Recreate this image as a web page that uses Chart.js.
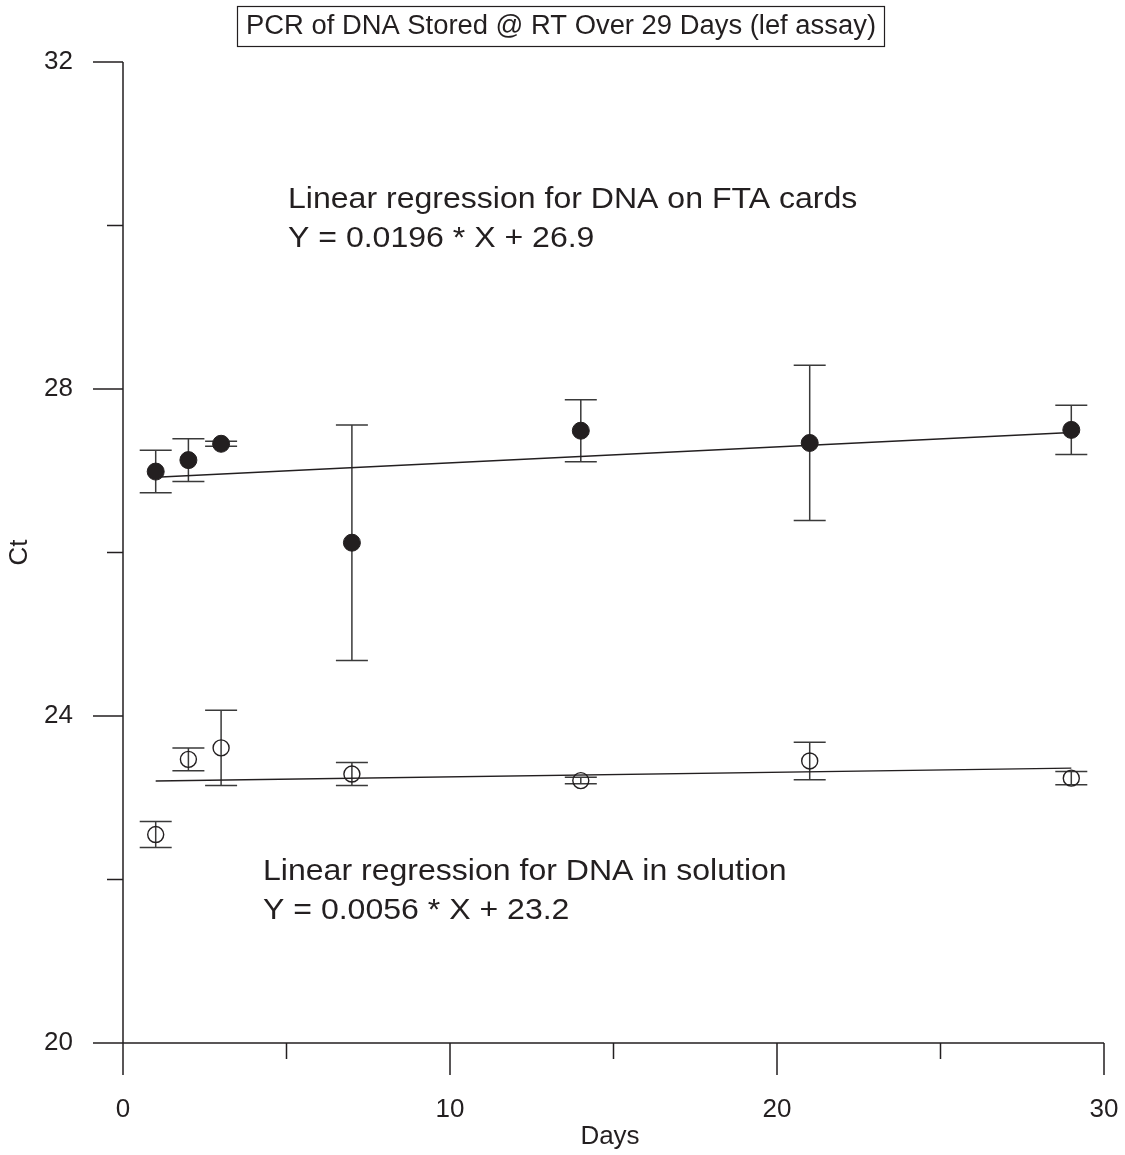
<!DOCTYPE html>
<html>
<head>
<meta charset="utf-8">
<script src="https://cdn.jsdelivr.net/npm/chart.js@4.4.1/dist/chart.umd.min.js"></script>
<style>
  html, body { margin: 0; background: #fff; }
  #wrap { width: 1125px; height: 1155px; }
</style>
</head>
<body>
<div id="wrap"><canvas id="ctChart" width="1125" height="1155"></canvas></div>
<script>
// values
const days = [1, 2, 3, 7, 14, 21, 29];
const ftaCt = [26.99, 27.13, 27.33, 26.12, 27.49, 27.34, 27.50];
const ftaErr = [0.26, 0.26, 0.03, 1.44, 0.38, 0.95, 0.30];
const solCt = [22.55, 23.47, 23.61, 23.29, 23.21, 23.45, 23.24];
const solErr = [0.16, 0.14, 0.46, 0.14, 0.04, 0.23, 0.08];

// regression lines as printed on the chart
const ftaFit = [0.0196, 26.9];
const solFit = [0.0056, 23.2];
const fitDays = [1, 29];

const xMajor = [0, 10, 20, 30];
const xMinor = [5, 15, 25];
const yMajor = [20, 24, 28, 32];
const yMinor = [22, 26, 30];

const INK = '#231f20';
const FONT = "'Liberation Sans', Arial, sans-serif";

function pts(xs, ys) {
    return xs.map((x, i) => ({ x: x, y: ys[i] }));
}
function fitLine(fit) {
    return fitDays.map(d => ({ x: d, y: fit[0] * d + fit[1] }));
}

// vertical error bars with caps, drawn under the markers
const errorBars = {
    id: 'errorBars',
    beforeDatasetsDraw(chart) {
        const ctx = chart.ctx;
        const ys = chart.scales.y;
        ctx.save();
        ctx.strokeStyle = '#3a3a3a';
        ctx.lineWidth = 1.5;
        chart.data.datasets.forEach((ds, di) => {
            if (!ds.errors) return;
            const meta = chart.getDatasetMeta(di);
            meta.data.forEach((el, i) => {
                const v = ds.data[i].y;
                const top = ys.getPixelForValue(v + ds.errors[i]);
                const bot = ys.getPixelForValue(v - ds.errors[i]);
                const x = el.x;
                ctx.beginPath();
                ctx.moveTo(x, top); ctx.lineTo(x, bot);
                ctx.moveTo(x - 16, top); ctx.lineTo(x + 16, top);
                ctx.moveTo(x - 16, bot); ctx.lineTo(x + 16, bot);
                ctx.stroke();
            });
        });
        ctx.restore();
    }
};

// L-shaped axes with outward ticks, like the original plotting program
const axesFrame = {
    id: 'axesFrame',
    afterDraw(chart) {
        const ctx = chart.ctx;
        const xs = chart.scales.x, ys = chart.scales.y;
        const a = chart.chartArea;
        ctx.save();
        ctx.strokeStyle = INK;
        ctx.lineWidth = 1.5;
        ctx.beginPath();
        ctx.moveTo(a.left, a.top); ctx.lineTo(a.left, a.bottom);
        ctx.moveTo(a.left, a.bottom); ctx.lineTo(a.right, a.bottom);
        yMajor.forEach(v => {
            const y = ys.getPixelForValue(v);
            ctx.moveTo(a.left - 30, y); ctx.lineTo(a.left, y);
        });
        yMinor.forEach(v => {
            const y = ys.getPixelForValue(v);
            ctx.moveTo(a.left - 16, y); ctx.lineTo(a.left, y);
        });
        xMajor.forEach(v => {
            const x = xs.getPixelForValue(v);
            ctx.moveTo(x, a.bottom); ctx.lineTo(x, a.bottom + 32);
        });
        xMinor.forEach(v => {
            const x = xs.getPixelForValue(v);
            ctx.moveTo(x, a.bottom); ctx.lineTo(x, a.bottom + 16);
        });
        ctx.stroke();

        ctx.fillStyle = INK;
        ctx.font = '26px ' + FONT;
        ctx.textAlign = 'right';
        ctx.textBaseline = 'middle';
        yMajor.forEach(v => ctx.fillText(String(v), a.left - 50, ys.getPixelForValue(v)));
        ctx.textAlign = 'center';
        xMajor.forEach(v => ctx.fillText(String(v), xs.getPixelForValue(v), 1110));

        ctx.fillText('Days', 610, 1137);
        ctx.save();
        ctx.translate(20, (a.top + a.bottom) / 2);
        ctx.rotate(-Math.PI / 2);
        ctx.fillText('Ct', 0, 0);
        ctx.restore();
        ctx.restore();
    }
};

// draws text stretched horizontally to the width it has in the original
function wideText(ctx, txt, x, y, width) {
    const w = ctx.measureText(txt).width;
    ctx.save();
    ctx.translate(x, y);
    ctx.scale(width / w, 1);
    ctx.fillText(txt, 0, 0);
    ctx.restore();
}

// boxed title and the two regression captions
const labels = {
    id: 'labels',
    afterDraw(chart) {
        const ctx = chart.ctx;
        ctx.save();
        ctx.fillStyle = INK;
        ctx.strokeStyle = INK;
        ctx.lineWidth = 1.2;
        ctx.strokeRect(237.5, 6.5, 647, 40);

        ctx.textBaseline = 'middle';
        ctx.textAlign = 'left';
        ctx.font = '27px ' + FONT;
        wideText(ctx, 'PCR of DNA Stored @ RT Over 29 Days (lef assay)', 246, 27, 630);

        ctx.font = '29px ' + FONT;
        const s = 1.105;
        const cap1 = 'Linear regression for DNA on FTA cards';
        const eq1 = 'Y = 0.0196 * X + 26.9';
        const cap2 = 'Linear regression for DNA in solution';
        const eq2 = 'Y = 0.0056 * X + 23.2';
        wideText(ctx, cap1, 288, 200, ctx.measureText(cap1).width * s);
        wideText(ctx, eq1, 288, 239, ctx.measureText(eq1).width * s);
        wideText(ctx, cap2, 263, 872, ctx.measureText(cap2).width * s);
        wideText(ctx, eq2, 263, 911, ctx.measureText(eq2).width * s);
        ctx.restore();
    }
};

new Chart(document.getElementById('ctChart'), {
    type: 'scatter',
    data: {
        datasets: [
            {
                label: 'DNA on FTA cards',
                data: pts(days, ftaCt),
                errors: ftaErr,
                pointRadius: 8.5,
                pointBackgroundColor: INK,
                pointBorderColor: INK,
                pointBorderWidth: 1,
                showLine: false
            },
            {
                label: 'DNA in solution',
                data: pts(days, solCt),
                errors: solErr,
                pointRadius: 8,
                pointBackgroundColor: 'rgba(0,0,0,0)',
                pointBorderColor: INK,
                pointBorderWidth: 1.4,
                showLine: false
            },
            {
                label: 'FTA fit',
                data: fitLine(ftaFit),
                showLine: true,
                borderColor: INK,
                borderWidth: 1.4,
                pointRadius: 0
            },
            {
                label: 'Solution fit',
                data: fitLine(solFit),
                showLine: true,
                borderColor: INK,
                borderWidth: 1.4,
                pointRadius: 0
            }
        ]
    },
    options: {
        responsive: false,
        animation: false,
        layout: { padding: { left: 123, right: 21, top: 62, bottom: 112 } },
        scales: {
            x: { type: 'linear', min: 0, max: 30, display: false },
            y: { type: 'linear', min: 20, max: 32, display: false }
        },
        plugins: {
            legend: { display: false },
            tooltip: { enabled: false },
            title: { display: false }
        }
    },
    plugins: [errorBars, axesFrame, labels]
});
</script>
</body>
</html>
